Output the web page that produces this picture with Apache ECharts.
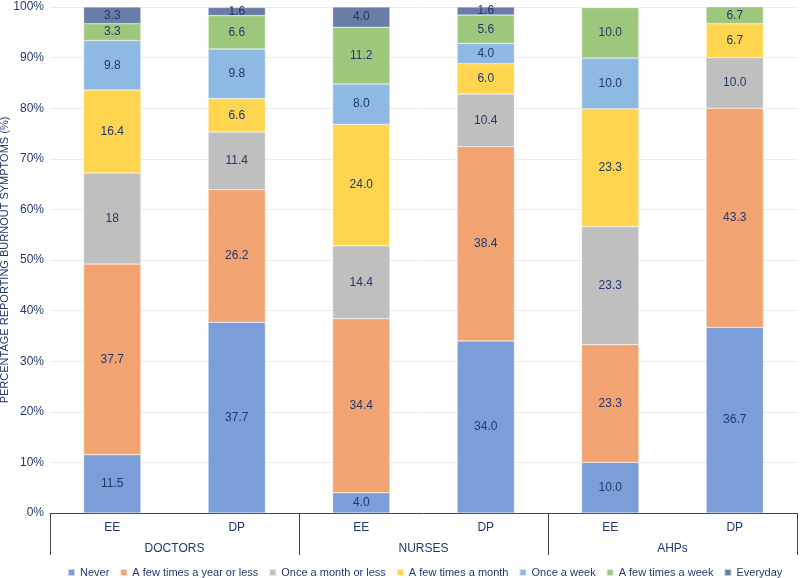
<!DOCTYPE html>
<html>
<head>
<meta charset="utf-8">
<script src="https://cdn.jsdelivr.net/npm/echarts@6/dist/echarts.min.js"></script>
<style>html,body{margin:0;padding:0;background:#fff}#c{width:800px;height:578px}</style>
</head>
<body>
<div id="c"></div>
<script>
var categories = ['EE', 'DP', 'EE', 'DP', 'EE', 'DP'];
var groups = ['DOCTORS', 'NURSES', 'AHPs'];
var seriesNames = ['Never', 'A few times a year or less', 'Once a month or less', 'A few times a month', 'Once a week', 'A few times a week', 'Everyday'];
var never        = ['11.5', '37.7', '4.0',  '34.0', '10.0', '36.7'];
var fewYear      = ['37.7', '26.2', '34.4', '38.4', '23.3', '43.3'];
var onceMonth    = ['18',   '11.4', '14.4', '10.4', '23.3', '10.0'];
var fewMonth     = ['16.4', '6.6',  '24.0', '6.0',  '23.3', '6.7'];
var onceWeek     = ['9.8',  '9.8',  '8.0',  '4.0',  '10.0', '0'];
var fewWeek      = ['3.3',  '6.6',  '11.2', '5.6',  '10.0', '6.7'];
var everyday     = ['3.3',  '1.6',  '4.0',  '1.6',  '0',    '0'];
var yTicks = [0, 10, 20, 30, 40, 50, 60, 70, 80, 90, 100];
var colors = ['#7c9ed8', '#f2a372', '#bfbfbf', '#ffd44f', '#8eb9e3', '#9ec77e', '#6a7da6'];

var raw = [never, fewYear, onceMonth, fewMonth, onceWeek, fewWeek, everyday];
var textColor = '#22386f';
var font = 'Helvetica, Arial, "Liberation Sans", sans-serif';

var series = raw.map(function (arr, si) {
  return {
    name: seriesNames[si],
    type: 'bar',
    stack: 'all',
    barWidth: '46%',
    clip: true,
    itemStyle: { color: colors[si], borderColor: 'rgba(255,255,255,0.6)', borderWidth: 0.5 },
    label: {
      show: true,
      position: 'inside',
      color: textColor,
      fontSize: 12,
      fontFamily: font,
      formatter: function (p) { var s = arr[p.dataIndex]; return Number(s) === 0 ? '' : s; }
    },
    data: arr.map(Number)
  };
});

var chart = echarts.init(document.getElementById('c'));
chart.setOption({
  animation: false,
  color: colors,
  textStyle: { fontFamily: font },
  grid: { left: 50, right: 3, top: 7, bottom: 65, outerBoundsMode: 'none', containLabel: false },
  legend: {
    top: 562,
    left: 62,
    itemWidth: 7,
    itemHeight: 7,
    itemGap: 10,
    icon: 'rect',
    textStyle: { color: textColor, fontSize: 11, fontFamily: font },
    data: seriesNames
  },
  xAxis: [
    {
      type: 'category',
      data: categories,
      position: 'bottom',
      axisLine: { show: true, lineStyle: { color: '#444', width: 1 } },
      axisTick: { show: false },
      axisLabel: { color: textColor, fontSize: 12, margin: 9, fontFamily: font },
      splitLine: { show: false }
    },
    {
      type: 'category',
      data: groups,
      position: 'bottom',
      offset: 0,
      axisLine: { show: false },
      axisTick: { show: true, length: 42, lineStyle: { color: '#444', width: 1 } },
      axisLabel: { color: textColor, fontSize: 12, margin: 30, fontFamily: font },
      splitLine: { show: false }
    }
  ],
  yAxis: {
    type: 'value',
    min: yTicks[0],
    max: yTicks[yTicks.length - 1],
    interval: 10,
    name: 'PERCENTAGE REPORTING BURNOUT SYMPTOMS (%)',
    nameLocation: 'middle',
    nameGap: 40,
    nameRotate: 90,
    nameMoveOverlap: false,
    nameTextStyle: { color: textColor, fontSize: 11, fontFamily: font },
    axisLine: { show: false },
    axisTick: { show: false },
    axisLabel: { color: textColor, fontSize: 12, margin: 6, formatter: '{value}%', fontFamily: font },
    splitLine: { lineStyle: { color: '#ececec', width: 1 } }
  },
  series: series
});
</script>
</body>
</html>
